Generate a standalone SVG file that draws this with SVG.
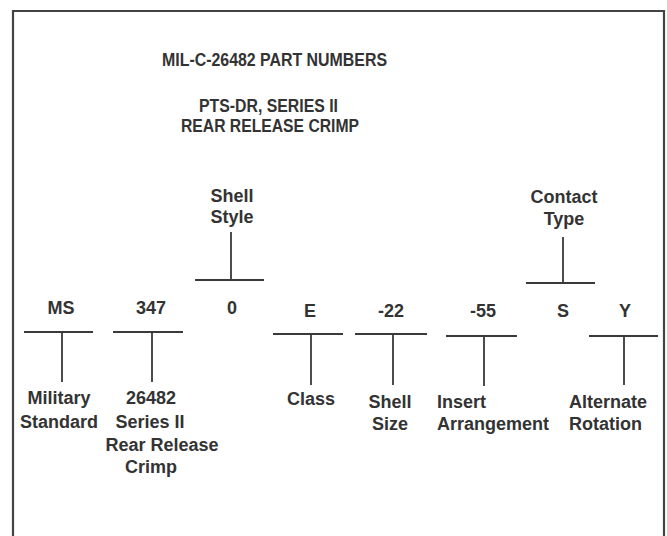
<svg xmlns="http://www.w3.org/2000/svg" width="667" height="536" viewBox="0 0 667 536">
<style>
text{font-family:"Liberation Sans",Arial,sans-serif;font-weight:bold;fill:#333;}
.t{font-size:18px;text-anchor:middle;}
.c{font-size:18px;text-anchor:middle;}
.l{font-size:18px;}
.ln{stroke:#3a3a3a;stroke-width:1.8;fill:none;}
.frame{stroke:#444;stroke-width:2.2;fill:none;}
</style>
<rect width="667" height="536" fill="#fff"/>
<path class="frame" d="M13,540 V11 H664 V540"/>
<g id="title">
<text class="t" x="274.5" y="65.5" textLength="225" lengthAdjust="spacingAndGlyphs">MIL-C-26482 PART NUMBERS</text>
<text class="t" x="268.5" y="112" textLength="139" lengthAdjust="spacingAndGlyphs">PTS-DR, SERIES II</text>
<text class="t" x="270" y="131.5" textLength="178" lengthAdjust="spacingAndGlyphs">REAR RELEASE CRIMP</text>
</g>
<g id="connectors">
<path class="ln" d="M195,280 H264 M231,232 V280"/>
<path class="ln" d="M526,283 H595 M563,237 V283"/>
<path class="ln" d="M24,332 H93 M62,332 V382"/>
<path class="ln" d="M113,332 H183 M152,332 V382"/>
<path class="ln" d="M273,334 H343 M311,334 V385"/>
<path class="ln" d="M355,334 H427 M393,334 V385"/>
<path class="ln" d="M446,336 H517 M484,336 V386"/>
<path class="ln" d="M589,336 H658 M624,336 V385"/>
</g>
<g id="ms"><text class="c" x="61" y="314">MS</text><text class="c" x="59" y="404">Military</text><text class="c" x="59" y="428">Standard</text></g>
<g id="n347"><text class="c" x="151" y="314">347</text><text class="c" x="151" y="404">26482</text><text class="c" x="150" y="428">Series II</text><text class="c" x="162" y="451">Rear Release</text><text class="c" x="151" y="473">Crimp</text></g>
<g id="n0"><text class="c" x="232" y="202">Shell</text><text class="c" x="232" y="223">Style</text><text class="c" x="232" y="314">0</text></g>
<g id="e"><text class="c" x="310" y="317">E</text><text class="c" x="311" y="405">Class</text></g>
<g id="n22"><text class="c" x="391" y="317">-22</text><text class="c" x="390" y="408">Shell</text><text class="c" x="390" y="430">Size</text></g>
<g id="n55"><text class="c" x="483" y="317">-55</text><text class="l" x="437" y="408">Insert</text><text class="l" x="437" y="430">Arrangement</text></g>
<g id="s"><text class="c" x="564" y="203">Contact</text><text class="c" x="564" y="225">Type</text><text class="c" x="563" y="317">S</text></g>
<g id="y"><text class="c" x="625" y="317">Y</text><text class="l" x="569" y="408">Alternate</text><text class="l" x="569" y="430">Rotation</text></g>
</svg>
